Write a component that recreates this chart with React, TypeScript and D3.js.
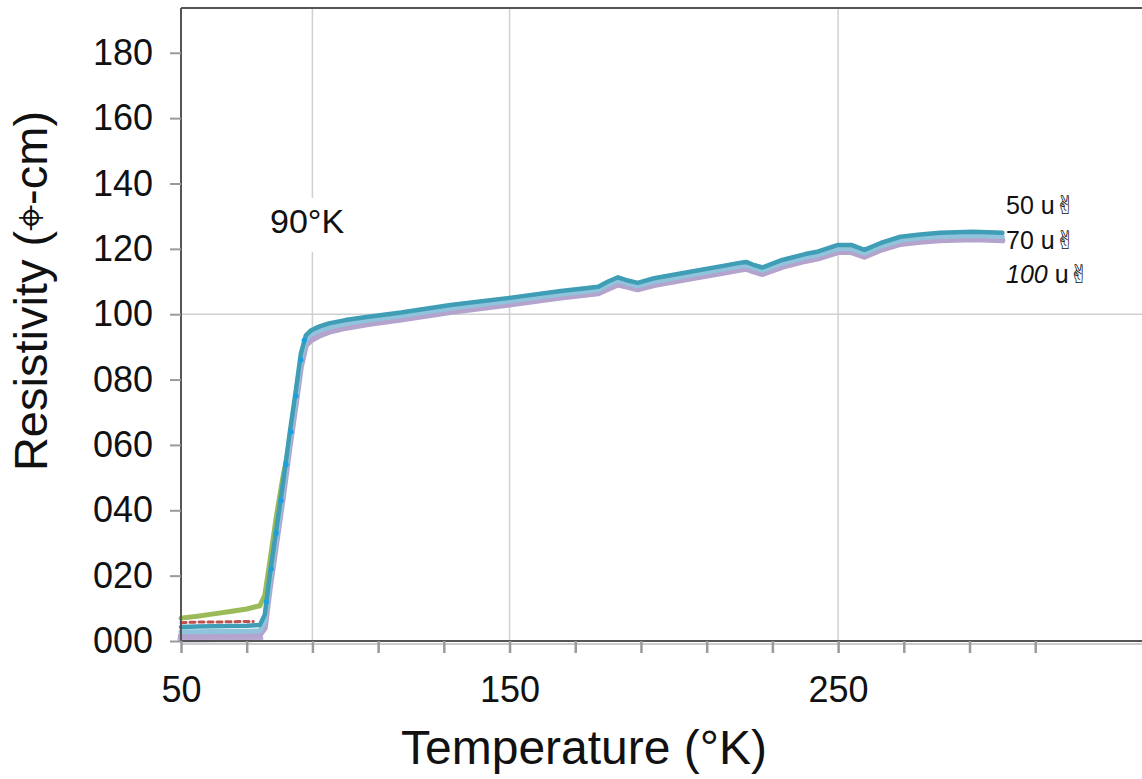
import React, { useEffect, useRef } from "react";
import * as d3 from "d3";

// temperature (K) sample points
const temps = [50, 55, 60, 65, 70, 74, 75.5, 77, 79, 81, 83, 85, 86.5, 88,
  89.5, 92, 95, 100, 107, 117, 132, 150, 165, 177, 180, 183, 186, 189, 194,
  205, 215, 220, 222, 224, 227, 233, 240, 244, 250, 254, 258, 263, 269, 275,
  281, 291, 300];

// resistivity for the three currents
const r50 = [4.3, 4.4, 4.5, 4.6, 4.7, 4.9, 8, 20, 34, 48, 63, 77, 88, 93.5,
  95, 96.2, 97.2, 98.2, 99.2, 100.5, 102.8, 105, 107, 108.4, 110, 111.3, 110.3,
  109.6, 111, 113, 114.8, 115.7, 116, 115.2, 114.3, 116.6, 118.4, 119.2, 121.2,
  121.2, 119.7, 121.8, 123.7, 124.4, 124.9, 125.2, 124.9];
const r70 = [2.8, 2.8, 2.9, 2.9, 3.0, 3.1, 6, 18, 32, 46, 61, 75, 86, 92.3,
  93.8, 95, 96, 97.1, 98.2, 99.5, 101.8, 104, 106, 107.5, 109, 110.3, 109.4,
  108.7, 110, 112, 113.8, 114.7, 115, 114.3, 113.4, 115.6, 117.4, 118.2, 120.1,
  120.1, 118.7, 120.8, 122.6, 123.4, 123.8, 124.1, 123.8];
const r100 = [1.6, 1.6, 1.7, 1.7, 1.8, 1.9, 4, 16, 30, 44, 59, 73, 84, 90.5,
  92, 93.4, 94.6, 95.8, 97, 98.4, 100.7, 103, 105, 106.4, 107.8, 109.1, 108.4,
  107.6, 108.9, 110.9, 112.7, 113.6, 113.9, 113.2, 112.3, 114.5, 116.3, 117.1,
  119, 119, 117.6, 119.7, 121.5, 122.2, 122.6, 122.9, 122.6];

// extra low temperature traces
const greenT = [50, 55, 60, 65, 70, 74, 75.5, 77, 79, 81, 83];
const greenR = [7, 7.6, 8.3, 9, 9.8, 10.8, 14, 24, 38, 50, 60];
const redT = [50, 55, 60, 65, 70, 72];
const redR = [5.6, 5.8, 5.8, 5.9, 6.0, 6.0];
const floorT = [50, 55, 60, 65, 70, 74];
const floorR = [0.6, 0.6, 0.7, 0.7, 0.7, 0.8];
const riseT = [76, 77.5, 79, 80.5, 82, 83.5, 85, 86.5, 87.5];
const riseR = [12, 22, 33, 43, 54, 64, 75, 86, 92];

const legendLabels = ["50", "70", "100"];
const yTicks = [0, 20, 40, 60, 80, 100, 120, 140, 160, 180];
const xTicks = [50, 70, 90, 110, 130, 150, 170, 190, 210, 230, 250, 270, 290, 310];
const xLabelled = [50, 150, 250];
const xGrid = [90, 150, 250];
const yGrid = [100];

const W = 1142, H = 779;
const FONT = "'Liberation Sans', Arial, sans-serif";

export default function App() {
  const xAxisRef = useRef<SVGGElement>(null);
  const yAxisRef = useRef<SVGGElement>(null);

  const x = d3.scaleLinear().domain([50, 342.5]).range([181, 1142]);
  const y = d3.scaleLinear().domain([0, 193.7]).range([641, 8]);

  const line = d3.line<[number, number]>().x(d => x(d[0])).y(d => y(d[1]));
  const pts = (t: number[], v: number[]) => t.map((d, i) => [d, v[i]] as [number, number]);

  useEffect(() => {
    const gy = d3.select(yAxisRef.current);
    gy.call(d3.axisLeft(y).tickValues(yTicks).tickFormat(d3.format("03d")).tickSize(11).tickPadding(17));
    gy.select(".domain").remove();
    gy.selectAll(".tick line").attr("stroke", "#9a9a9a").attr("stroke-width", 2);
    gy.selectAll(".tick text").attr("font-size", 36).attr("font-family", FONT).attr("fill", "#111");

    const gx = d3.select(xAxisRef.current);
    gx.call(d3.axisBottom(x).tickValues(xTicks)
      .tickFormat(d => (xLabelled.includes(+d) ? String(d) : "")).tickSize(12));
    gx.select(".domain").remove();
    gx.selectAll(".tick line").attr("stroke", "#9a9a9a").attr("stroke-width", 2.5);
    gx.selectAll(".tick text").attr("font-size", 36).attr("font-family", FONT)
      .attr("fill", "#111").attr("y", 61).attr("dy", 0);
  }, []);

  return (
    <svg width={W} height={H} style={{ position: "absolute", left: 0, top: 0, background: "#fff" }}>
      {/* grid */}
      {xGrid.map(v => (
        <line key={"gx" + v} x1={x(v)} x2={x(v)} y1={8} y2={641} stroke="#d0d0d0" strokeWidth={1.5} />
      ))}
      {yGrid.map(v => (
        <line key={"gy" + v} x1={181} x2={W} y1={y(v)} y2={y(v)} stroke="#d0d0d0" strokeWidth={1.5} />
      ))}

      {/* annotation */}
      <rect x={262} y={198} width={96} height={54} fill="#fff" />
      <text x={270} y={233} fontSize={34} fontFamily={FONT} fill="#111">90°K</text>

      {/* data */}
      <g fill="none" strokeLinejoin="round" strokeLinecap="round">
        <path d={line(pts(floorT, floorR)) || ""} stroke="#b9a9d2" strokeWidth={7} />
        <path d={line(pts(greenT, greenR)) || ""} stroke="#9bbb59" strokeWidth={5} />
        <path d={line(pts(redT, redR)) || ""} stroke="#c0504d" strokeWidth={3} strokeDasharray="5 4" />
        <path d={line(pts(temps, r100)) || ""} stroke="#b4a3cd" strokeWidth={6} />
        <path d={line(pts(temps, r70)) || ""} stroke="#8fc4dc" strokeWidth={5} />
        <path d={line(pts(temps, r50)) || ""} stroke="#3f9db5" strokeWidth={4.5} />
        {riseT.map((t, i) => (
          <circle key={"r" + i} cx={x(t)} cy={y(riseR[i])} r={2.6} fill="#1a9fe0" />
        ))}
      </g>

      {/* frame */}
      <line x1={181} x2={W} y1={8} y2={8} stroke="#555" strokeWidth={2} />
      <line x1={181} x2={181} y1={8} y2={642} stroke="#555" strokeWidth={2} />
      <line x1={181} x2={W} y1={641} y2={641} stroke="#555" strokeWidth={2} />
      <line x1={181} x2={W} y1={644} y2={644} stroke="#ccc" strokeWidth={2} />

      <g ref={yAxisRef} transform="translate(181,0)" />
      <g ref={xAxisRef} transform="translate(0,641)" />

      {/* legend */}
      {legendLabels.map((l, i) => (
        <text key={l} x={1006} y={214 + i * 34.5} fontSize={25} fontFamily={FONT} fill="#111">
          <tspan fontStyle={i === 2 ? "italic" : "normal"}>{l}</tspan>
          <tspan> u</tspan>
          <tspan fontFamily="'DejaVu Sans'" fontSize={26}>✌</tspan>
        </text>
      ))}

      {/* axis titles */}
      <text x={584} y={764} textAnchor="middle" fontSize={48} fontFamily={FONT} fill="#111">
        Temperature (°K)
      </text>
      <text transform="translate(47,291) rotate(-90)" textAnchor="middle" fontSize={47} fontFamily={FONT} fill="#111">
        Resistivity (<tspan fontFamily="'DejaVu Sans'">⌖</tspan>-cm)
      </text>
    </svg>
  );
}
